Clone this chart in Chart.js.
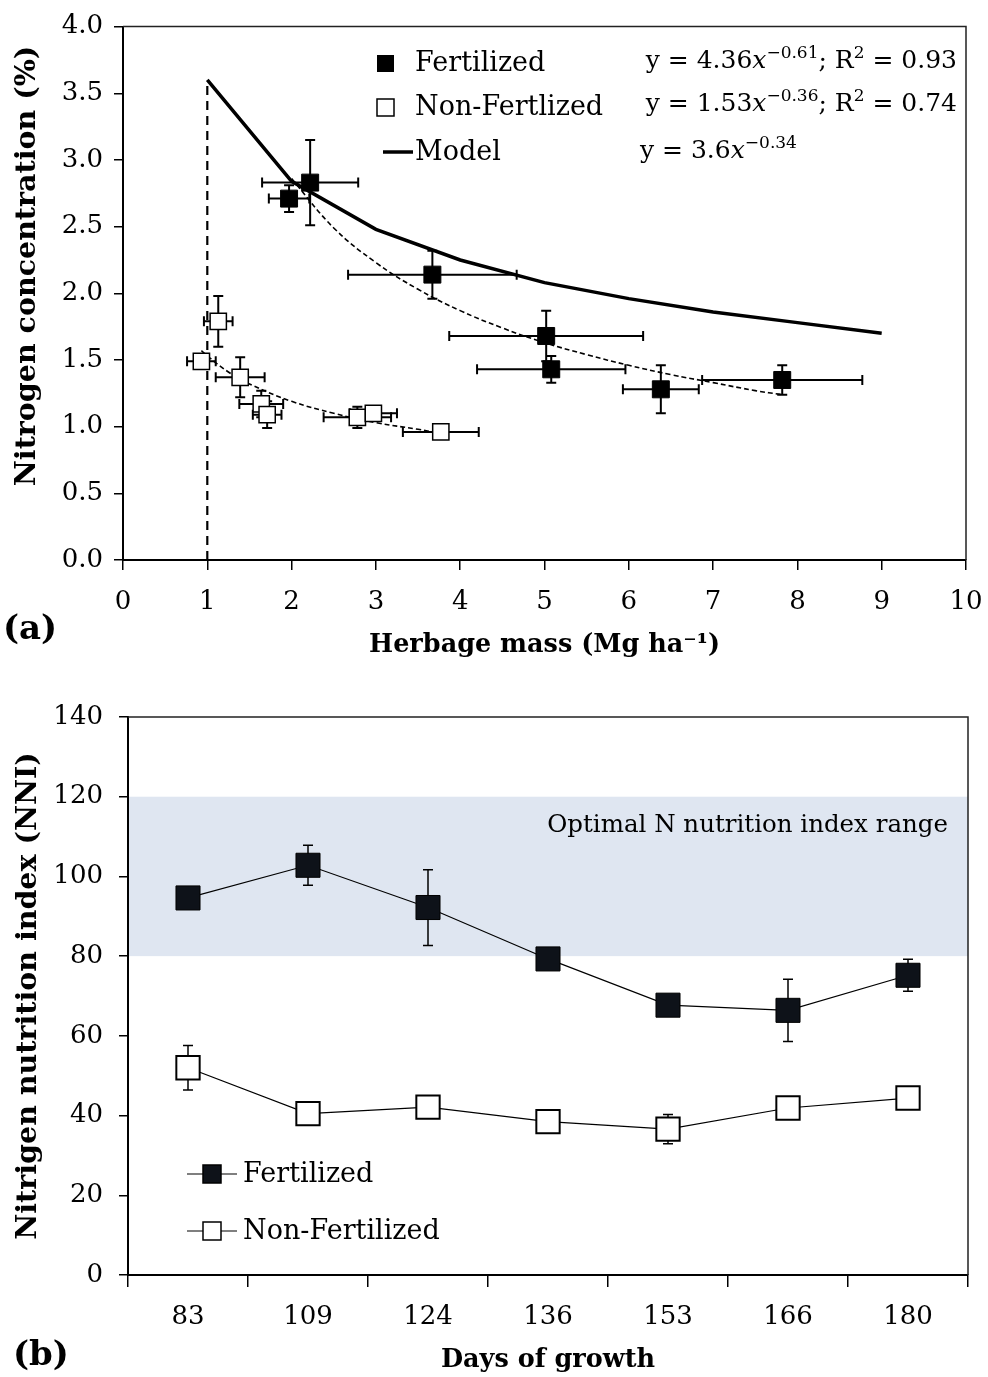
<!DOCTYPE html>
<html>
<head>
<meta charset="utf-8">
<script src="https://cdn.jsdelivr.net/npm/chart.js@4/dist/chart.umd.min.js"></script>
<style>
  body { margin: 0; background: #fff; }
  canvas { display: block; }
</style>
</head>
<body>
<canvas id="chartA" width="988" height="680"></canvas>
<canvas id="chartB" width="988" height="697"></canvas>
<script>
// --- DATOS PANEL (a) ---
const fertX    = [1.97, 2.22, 3.67, 5.02, 5.08, 6.38, 7.82];
const fertY    = [2.71, 2.83, 2.14, 1.68, 1.43, 1.28, 1.35];
const fertXErr = [0.24, 0.57, 1.00, 1.15, 0.88, 0.45, 0.95];
const fertYErr = [0.10, 0.32, 0.18, 0.19, 0.10, 0.18, 0.11];

const nonX    = [1.13, 0.93, 1.39, 1.64, 1.71, 2.78, 2.97, 3.77];
const nonY    = [1.79, 1.49, 1.37, 1.17, 1.09, 1.07, 1.10, 0.96];
const nonXErr = [0.17, 0.17, 0.29, 0.26, 0.17, 0.40, 0.28, 0.45];
const nonYErr = [0.19, 0.03, 0.15, 0.10, 0.10, 0.08, 0.03, 0.02];

const modelX = [1, 2, 3, 4, 5, 6, 7, 8, 9];
const modelY = [3.60, 2.84, 2.48, 2.25, 2.08, 1.96, 1.86, 1.78, 1.70];

const fertFitX = [2.0, 2.5, 3.0, 3.5, 4.0, 4.5, 5.0, 5.5, 6.0, 6.5, 7.0, 7.5, 7.82];
const fertFitY = [2.86, 2.49, 2.23, 2.03, 1.87, 1.74, 1.63, 1.54, 1.46, 1.39, 1.33, 1.27, 1.24];

const nonFitX = [0.93, 1.0, 1.25, 1.5, 2.0, 2.5, 3.0, 3.5, 3.77];
const nonFitY = [1.57, 1.53, 1.41, 1.32, 1.19, 1.10, 1.03, 0.98, 0.95];

const criticalX = [1, 1];
const criticalY = [0, 3.6];

// --- DATOS PANEL (b) ---
const dias     = ['83', '109', '124', '136', '153', '166', '180'];
const fertNNI  = [94.6, 102.8, 92.2, 79.3, 67.7, 66.4, 75.2];
const fertErr  = [2.0, 5.0, 9.5, 2.0, 2.0, 7.8, 4.0];
const nonNNI   = [52.0, 40.5, 42.1, 38.5, 36.6, 41.9, 44.4];
const nonErr   = [5.6, 2.0, 2.0, 2.0, 3.7, 2.8, 2.0];
const bandaOptima = [80, 120];

const SERIF = "'DejaVu Serif', serif";
const fTick = { family: SERIF, size: 26 };
const fTituloX = { family: SERIF, size: 25.5, weight: 'bold' };
const fTituloY = { family: SERIF, size: 28.5, weight: 'bold' };

function pares(xs, ys) {
    return xs.map((x, i) => ({ x: x, y: ys[i] }));
}

// texto con superindices / cursiva
function textoRico(ctx, partes, x, y, align, size) {
    const fuente = (p) => {
        if (p[1] === 's') return `${Math.round(size * 0.66)}px ${SERIF}`;
        if (p[1] === 'i') return `italic ${size}px ${SERIF}`;
        return `${size}px ${SERIF}`;
    };
    let total = 0;
    partes.forEach(p => { ctx.font = fuente(p); total += ctx.measureText(p[0]).width; });
    let cx = align === 'right' ? x - total : x;
    ctx.textAlign = 'left';
    ctx.textBaseline = 'alphabetic';
    partes.forEach(p => {
        ctx.font = fuente(p);
        const dy = p[1] === 's' ? -size * 0.42 : 0;
        ctx.fillText(p[0], cx, y + dy);
        cx += ctx.measureText(p[0]).width;
    });
}

function barrasError(ctx, sx, sy, xs, ys, ex, ey, cap, ancho) {
    ctx.save();
    ctx.strokeStyle = '#000';
    ctx.lineWidth = ancho;
    xs.forEach((x, i) => {
        const px = sx.getPixelForValue(x), py = sy.getPixelForValue(ys[i]);
        if (ex && ex[i]) {
            const x1 = sx.getPixelForValue(x - ex[i]), x2 = sx.getPixelForValue(x + ex[i]);
            ctx.beginPath();
            ctx.moveTo(x1, py); ctx.lineTo(x2, py);
            ctx.moveTo(x1, py - cap); ctx.lineTo(x1, py + cap);
            ctx.moveTo(x2, py - cap); ctx.lineTo(x2, py + cap);
            ctx.stroke();
        }
        if (ey && ey[i]) {
            const y1 = sy.getPixelForValue(ys[i] - ey[i]), y2 = sy.getPixelForValue(ys[i] + ey[i]);
            ctx.beginPath();
            ctx.moveTo(px, y1); ctx.lineTo(px, y2);
            ctx.moveTo(px - cap, y1); ctx.lineTo(px + cap, y1);
            ctx.moveTo(px - cap, y2); ctx.lineTo(px + cap, y2);
            ctx.stroke();
        }
    });
    ctx.restore();
}

function marco(ctx, a) {
    ctx.save();
    ctx.strokeStyle = '#222';
    ctx.lineWidth = 1.5;
    ctx.beginPath();
    ctx.moveTo(a.left, a.top); ctx.lineTo(a.right, a.top); ctx.lineTo(a.right, a.bottom);
    ctx.stroke();
    ctx.restore();
}

// --- PANEL (a) ---
const pluginA = {
    id: 'panelA',
    beforeDatasetsDraw(chart) {
        const { ctx, scales } = chart;
        barrasError(ctx, scales.x, scales.y, fertX, fertY, fertXErr, fertYErr, 5, 2);
        barrasError(ctx, scales.x, scales.y, nonX, nonY, nonXErr, nonYErr, 5, 2);
    },
    afterDraw(chart) {
        const { ctx, chartArea } = chart;
        marco(ctx, chartArea);
        ctx.save();
        ctx.fillStyle = '#000';
        // leyenda
        ctx.fillRect(377, 55, 17, 17);
        ctx.fillStyle = '#fff';
        ctx.fillRect(377, 99, 17, 17);
        ctx.strokeStyle = '#000';
        ctx.lineWidth = 1.5;
        ctx.strokeRect(377, 99, 17, 17);
        ctx.lineWidth = 3.5;
        ctx.beginPath(); ctx.moveTo(383, 152); ctx.lineTo(413, 152); ctx.stroke();
        ctx.fillStyle = '#000';
        ctx.font = `27px ${SERIF}`;
        ctx.textBaseline = 'middle';
        ctx.textAlign = 'left';
        ctx.fillText('Fertilized', 415, 64);
        ctx.fillText('Non-Fertlized', 415, 108);
        ctx.fillText('Model', 415, 153);
        // ecuaciones
        textoRico(ctx, [['y = 4.36', 'n'], ['x', 'i'], ['\u22120.61', 's'], ['; R', 'n'], ['2', 's'], [' = 0.93', 'n']], 957, 68, 'right', 25);
        textoRico(ctx, [['y = 1.53', 'n'], ['x', 'i'], ['\u22120.36', 's'], ['; R', 'n'], ['2', 's'], [' = 0.74', 'n']], 957, 111, 'right', 25);
        textoRico(ctx, [['y = 3.6', 'n'], ['x', 'i'], ['\u22120.34', 's']], 640, 158, 'left', 25);
        // titulo del eje y (desplazado hacia arriba como en el original)
        ctx.save();
        ctx.translate(28, 266);
        ctx.rotate(-Math.PI / 2);
        ctx.font = `bold 28.5px ${SERIF}`;
        ctx.textAlign = 'center';
        ctx.textBaseline = 'middle';
        ctx.fillText('Nitrogen concentration (%)', 0, 0);
        ctx.restore();
        // etiqueta del panel
        ctx.font = `bold 34px ${SERIF}`;
        ctx.textAlign = 'left';
        ctx.textBaseline = 'middle';
        ctx.fillText('(a)', 3, 630);
        ctx.restore();
    }
};

new Chart(document.getElementById('chartA'), {
    type: 'scatter',
    data: {
        datasets: [
            { label: 'Fertilized', data: pares(fertX, fertY), pointStyle: 'rect', pointRadius: 12,
              backgroundColor: '#000', borderColor: '#000', borderWidth: 1, order: 0 },
            { label: 'Non-Fertlized', data: pares(nonX, nonY), pointStyle: 'rect', pointRadius: 11.5,
              backgroundColor: '#fff', borderColor: '#000', borderWidth: 1.5, order: 0 },
            { label: 'Model', data: pares(modelX, modelY), showLine: true, pointRadius: 0,
              borderColor: '#000', borderWidth: 3.5, order: 2 },
            { label: 'fitF', data: pares(fertFitX, fertFitY), showLine: true, pointRadius: 0, tension: 0.4,
              borderColor: '#000', borderWidth: 1.6, borderDash: [5, 3], order: 3 },
            { label: 'fitN', data: pares(nonFitX, nonFitY), showLine: true, pointRadius: 0, tension: 0.4,
              borderColor: '#000', borderWidth: 1.6, borderDash: [5, 3], order: 3 },
            { label: 'critico', data: pares(criticalX, criticalY), showLine: true, pointRadius: 0,
              borderColor: '#000', borderWidth: 2.2, borderDash: [9, 6], order: 3 }
        ]
    },
    options: {
        responsive: false,
        animation: false,
        layout: { padding: { top: 20, right: 22, left: 0, bottom: 0 } },
        plugins: { legend: { display: false }, tooltip: { enabled: false } },
        scales: {
            x: {
                type: 'linear', min: 0, max: 10,
                ticks: { stepSize: 1, font: fTick, color: '#000', padding: 17 },
                grid: { drawOnChartArea: false, tickLength: 10, color: '#000', lineWidth: 1.5 },
                border: { color: '#000', width: 2 },
                title: { display: true, text: 'Herbage mass (Mg ha\u207B\u00B9)', font: fTituloX, color: '#000', padding: { bottom: 19 } },
                afterFit(s) { s.height = 120; s.paddingRight = 0; s.paddingLeft = 0; }
            },
            y: {
                min: 0, max: 4,
                ticks: { stepSize: 0.5, font: fTick, color: '#000', padding: 11, callback: v => v.toFixed(1) },
                grid: { drawOnChartArea: false, tickLength: 9, color: '#000', lineWidth: 1.5 },
                border: { color: '#000', width: 2 },
                afterFit(s) { s.width = 123; }
            }
        }
    },
    plugins: [pluginA]
});

// --- PANEL (b) ---
const pluginB = {
    id: 'panelB',
    beforeDatasetsDraw(chart) {
        const { ctx, chartArea, scales } = chart;
        const yTop = scales.y.getPixelForValue(bandaOptima[1]);
        const yBot = scales.y.getPixelForValue(bandaOptima[0]);
        ctx.save();
        ctx.fillStyle = '#dfe6f1';
        ctx.fillRect(chartArea.left + 1, yTop, chartArea.right - chartArea.left - 1, yBot - yTop);
        ctx.fillStyle = '#000';
        ctx.font = `24.5px ${SERIF}`;
        ctx.textAlign = 'right';
        ctx.textBaseline = 'middle';
        ctx.fillText('Optimal N nutrition index range', 948, 146);
        ctx.restore();
        const idx = dias.map((d, i) => i);
        barrasError(ctx, scales.x, scales.y, idx, fertNNI, null, fertErr, 5, 1.5);
        barrasError(ctx, scales.x, scales.y, idx, nonNNI, null, nonErr, 5, 1.5);
    },
    afterDraw(chart) {
        const { ctx, chartArea } = chart;
        marco(ctx, chartArea);
        ctx.save();
        ctx.strokeStyle = '#000';
        ctx.lineWidth = 1.2;
        [[494, '#0e1219', 'Fertilized'], [551, '#fff', 'Non-Fertilized']].forEach(([y, c, t]) => {
            ctx.beginPath(); ctx.moveTo(187, y); ctx.lineTo(237, y); ctx.stroke();
            ctx.fillStyle = c;
            ctx.fillRect(203, y - 9, 18, 18);
            ctx.lineWidth = 1.5;
            ctx.strokeRect(203, y - 9, 18, 18);
            ctx.lineWidth = 1.2;
            ctx.fillStyle = '#000';
            ctx.font = `27px ${SERIF}`;
            ctx.textAlign = 'left';
            ctx.textBaseline = 'middle';
            ctx.fillText(t, 243, y + 1);
        });
        ctx.font = `bold 34px ${SERIF}`;
        ctx.fillText('(b)', 13, 676);
        ctx.restore();
    }
};

new Chart(document.getElementById('chartB'), {
    type: 'line',
    data: {
        labels: dias,
        datasets: [
            { label: 'Fertilized', data: fertNNI, pointStyle: 'rect', pointRadius: 17,
              pointBackgroundColor: '#0e1219', pointBorderColor: '#000', pointBorderWidth: 1,
              borderColor: '#000', borderWidth: 1.2 },
            { label: 'Non-Fertilized', data: nonNNI, pointStyle: 'rect', pointRadius: 16.5,
              pointBackgroundColor: '#fff', pointBorderColor: '#000', pointBorderWidth: 2,
              borderColor: '#000', borderWidth: 1.2 }
        ]
    },
    options: {
        responsive: false,
        animation: false,
        layout: { padding: { top: 37, right: 20, left: 0, bottom: 0 } },
        plugins: { legend: { display: false }, tooltip: { enabled: false } },
        scales: {
            x: {
                offset: true,
                ticks: { font: fTick, color: '#000', padding: 15 },
                grid: { offset: true, drawOnChartArea: false, tickLength: 12, color: '#000', lineWidth: 1.5 },
                border: { color: '#000', width: 2 },
                title: { display: true, text: 'Days of growth', font: fTituloX, color: '#000', padding: { bottom: 1 } },
                afterFit(s) { s.height = 102; s.paddingRight = 0; s.paddingLeft = 0; }
            },
            y: {
                min: 0, max: 140,
                ticks: { stepSize: 20, font: fTick, color: '#000', padding: 16 },
                grid: { drawOnChartArea: false, tickLength: 9, color: '#000', lineWidth: 1.5 },
                border: { color: '#000', width: 2 },
                title: { display: true, text: 'Nitrigen nutrition index (NNI)', font: fTituloY, color: '#000', padding: { top: 11 } },
                afterFit(s) { s.width = 128; }
            }
        }
    },
    plugins: [pluginB]
});
</script>
</body>
</html>
